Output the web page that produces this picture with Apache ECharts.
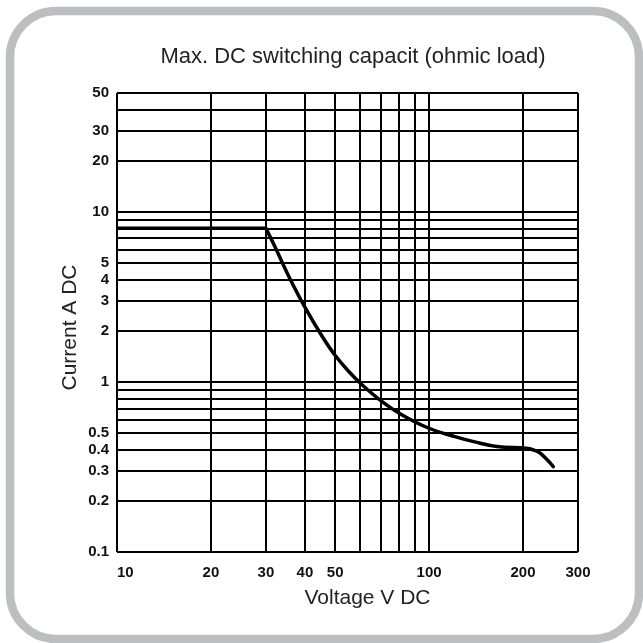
<!DOCTYPE html>
<html><head><meta charset="utf-8">
<script src="https://cdn.jsdelivr.net/npm/echarts@6/dist/echarts.min.js"></script>
<style>html,body{margin:0;padding:0;background:#fff}#c{width:643px;height:643px}</style>
</head><body><div id="c"></div>
<script>
// Grid lines and tick labels
const voltageGrid = [10, 20, 30, 40, 50, 60, 70, 80, 90, 100, 200, 300];
const currentGrid = [0.1, 0.2, 0.3, 0.4, 0.5, 0.6, 0.7, 0.8, 0.9, 1, 2, 3, 4, 5, 6, 7, 8, 9, 10, 20, 30, 40, 50];
const voltageLabels = [10, 20, 30, 40, 50, 100, 200, 300];
const currentLabels = [0.1, 0.2, 0.3, 0.4, 0.5, 1, 2, 3, 4, 5, 10, 20, 30, 50];
// Switching limit curve
const flatVoltage = [10, 30];
const flatCurrent = [8, 8];
const curveVoltage = [30, 32.1, 35.4, 40, 45.3, 49.9, 55.1, 60.8, 70.5, 81.7, 99.4, 121, 140, 165, 205, 216, 227, 250];
const curveCurrent = [8, 6.22, 4.23, 2.75, 1.87, 1.44, 1.16, 0.968, 0.769, 0.641, 0.536, 0.477, 0.444, 0.417, 0.407, 0.398, 0.381, 0.318];

const xMin = voltageGrid[0], xMax = voltageGrid[voltageGrid.length - 1];
const yMin = currentGrid[0], yMax = currentGrid[currentGrid.length - 1];
const FONT = 'Liberation Sans, Arial, sans-serif';
const labelStyle = { color: '#111', fontSize: 15, fontWeight: 'bold', fontFamily: FONT };

const gridLines = [];
voltageGrid.forEach(v => {
  const has = voltageLabels.includes(v);
  const lab = Object.assign({ show: has, position: 'start', distance: 13, formatter: String(v) }, labelStyle);
  if (v === xMin) lab.align = 'left';
  gridLines.push([{ coord: [v, yMin], label: lab }, { coord: [v, yMax] }]);
});
currentGrid.forEach(v => {
  const has = currentLabels.includes(v);
  const lab = Object.assign({ show: has, position: 'start', distance: 8, formatter: String(v) }, labelStyle);
  gridLines.push([{ coord: [xMin, v], label: lab }, { coord: [xMax, v] }]);
});

const chart = echarts.init(document.getElementById('c'), null, { renderer: 'canvas' });
chart.setOption({
  animation: false,
  backgroundColor: '#fff',
  graphic: [
    { type: 'rect', z: -10, shape: { x: 10, y: 11, width: 629, height: 628, r: 46 },
      style: { fill: '#fff', stroke: '#bdbec1', lineWidth: 8.5 } },
    { type: 'text', x: 353, y: 57, z: 10,
      style: { text: 'Max. DC switching capacit (ohmic load)', align: 'center', verticalAlign: 'middle',
               fontSize: 22, fill: '#222', fontFamily: FONT } }
  ],
  grid: { left: 117, right: 65, top: 93, bottom: 91 },
  xAxis: {
    type: 'log', logBase: 10, min: xMin, max: xMax,
    axisLine: { show: false }, axisTick: { show: false }, axisLabel: { show: false }, splitLine: { show: false },
    name: 'Voltage V DC', nameLocation: 'middle', nameGap: 36,
    nameTextStyle: { fontSize: 21, color: '#222', fontFamily: FONT, padding: [0, 0, 0, 40] }
  },
  yAxis: {
    type: 'log', logBase: 10, min: yMin, max: yMax,
    axisLine: { show: false }, axisTick: { show: false }, axisLabel: { show: false }, splitLine: { show: false },
    name: 'Current A DC', nameLocation: 'middle', nameGap: 36, nameRotate: 90,
    nameTextStyle: { fontSize: 21, color: '#222', fontFamily: FONT, padding: [0, 10, 0, 0] }
  },
  series: [
    {
      type: 'line', z: 5, symbol: 'none', silent: true,
      data: flatVoltage.map((v, i) => [v, flatCurrent[i]]),
      lineStyle: { color: '#000', width: 3.5 },
      markLine: {
        silent: true, symbol: ['none', 'none'], animation: false, z: 1,
        lineStyle: { color: '#000', width: 2, type: 'solid' },
        data: gridLines
      }
    },
    {
      type: 'line', z: 6, symbol: 'none', silent: true, smooth: 0.4,
      data: curveVoltage.map((v, i) => [v, curveCurrent[i]]),
      lineStyle: { color: '#000', width: 3.5, cap: 'round' }
    }
  ]
});
</script></body></html>
